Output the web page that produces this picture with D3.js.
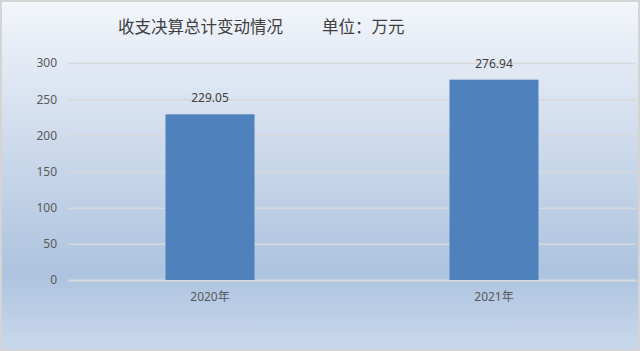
<!DOCTYPE html>
<html>
<head>
<meta charset="utf-8">
<script src="https://cdn.jsdelivr.net/npm/d3@7"></script>
<style>
  html, body { margin: 0; padding: 0; background: #fff; }
  svg text { font-family: "Noto Sans", "Noto Sans CJK SC", sans-serif; }
</style>
</head>
<body>
<svg id="chart"></svg>
<script>
// data
const years = ["2020年", "2021年"];
const totals = [229.05, 276.94];
const yTicks = [0, 50, 100, 150, 200, 250, 300];
const titleMain = "收支决算总计变动情况";
const titleUnit = "单位：万元";

const width = 640;
const height = 351;
const plot = { left: 68, right: 636, top: 63, bottom: 280 };

const svg = d3.select('#chart')
  .attr('width', width)
  .attr('height', height);

// background gradient
const defs = svg.append('defs');
const grad = defs.append('linearGradient')
  .attr('id', 'bg')
  .attr('x1', 0).attr('y1', 0).attr('x2', 0).attr('y2', 1);
grad.append('stop').attr('offset', '0%').attr('stop-color', '#f3f6fb');
grad.append('stop').attr('offset', '35%').attr('stop-color', '#d3deee');
grad.append('stop').attr('offset', '78%').attr('stop-color', '#adc3df');
grad.append('stop').attr('offset', '100%').attr('stop-color', '#c9d8ec');

svg.append('rect')
  .attr('x', 1).attr('y', 1)
  .attr('width', width - 2).attr('height', height - 2)
  .attr('fill', 'url(#bg)')
  .attr('stroke', '#d4d4d4')
  .attr('stroke-width', 2);

const x = d3.scaleBand()
  .domain(years)
  .range([plot.left, plot.right])
  .paddingInner(0.6866)
  .paddingOuter(0.3433);

const y = d3.scaleLinear()
  .domain([0, 300])
  .range([plot.bottom, plot.top]);

// gridlines + y labels
const yAxis = d3.axisLeft(y)
  .tickValues(yTicks)
  .tickSize(-(plot.right - plot.left))
  .tickPadding(11);

const gy = svg.append('g')
  .attr('transform', 'translate(' + plot.left + ',0)')
  .call(yAxis);
gy.select('.domain').remove();
gy.selectAll('.tick line')
  .attr('stroke', '#d9d9d9')
  .attr('stroke-width', 1.5);
gy.selectAll('.tick text')
  .attr('fill', '#595959')
  .attr('font-size', 12);

// x axis
const xAxis = d3.axisBottom(x).tickSize(0).tickPadding(12);
const gx = svg.append('g')
  .attr('transform', 'translate(0,' + plot.bottom + ')')
  .call(xAxis);
gx.select('.domain')
  .attr('stroke', '#d9d9d9')
  .attr('stroke-width', 1.5);
gx.selectAll('.tick text')
  .attr('fill', '#595959')
  .attr('font-size', 12);

// bars
svg.append('g')
  .selectAll('rect')
  .data(totals)
  .enter().append('rect')
  .attr('x', (d, i) => x(years[i]))
  .attr('y', d => y(d))
  .attr('width', x.bandwidth())
  .attr('height', d => y(0) - y(d))
  .attr('fill', '#4f81bd');

// value labels
svg.append('g')
  .selectAll('text')
  .data(totals)
  .enter().append('text')
  .attr('x', (d, i) => x(years[i]) + x.bandwidth() / 2)
  .attr('y', d => y(d) - 12)
  .attr('text-anchor', 'middle')
  .attr('fill', '#404040')
  .attr('font-size', 12)
  .text(d => d.toFixed(2));

// title
const title = svg.append('text')
  .attr('y', 33)
  .attr('fill', '#404040')
  .attr('font-size', 16.5);
title.append('tspan').attr('x', 118).text(titleMain);
title.append('tspan').attr('x', 322).text(titleUnit);
</script>
</body>
</html>
